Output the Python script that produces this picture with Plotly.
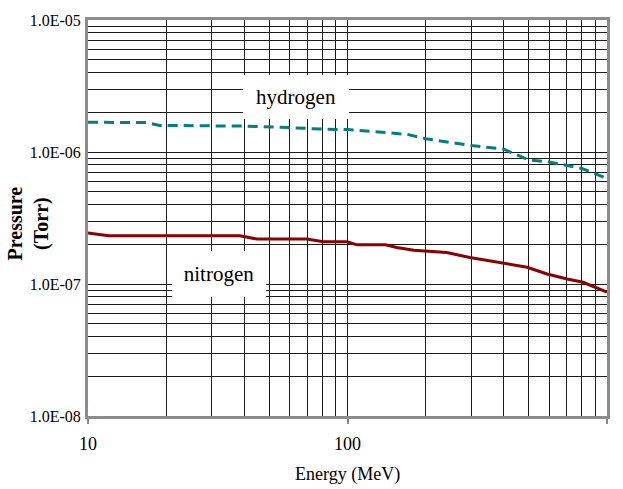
import plotly.graph_objects as go

# Residual gas pressure versus beam energy
energy_h = [10, 16.9, 18.9, 40, 60, 80, 100, 150, 170, 200, 300, 400, 500, 600, 700, 800, 1000]
pressure_h = [1.68e-6, 1.67e-6, 1.59e-6, 1.57e-6, 1.53e-6, 1.49e-6, 1.48e-6, 1.39e-6, 1.36e-6,
              1.26e-6, 1.12e-6, 1.05e-6, 0.87e-6, 0.84e-6, 0.79e-6, 0.75e-6, 0.63e-6]

energy_n = [10, 12, 38.5, 44.8, 69.8, 80.5, 99.6, 108.8, 140, 155, 180, 241, 296, 397, 492,
            588, 702, 809, 859, 1000]
pressure_n = [2.43e-7, 2.32e-7, 2.32e-7, 2.19e-7, 2.19e-7, 2.09e-7, 2.09e-7, 1.98e-7, 1.98e-7,
              1.89e-7, 1.80e-7, 1.73e-7, 1.59e-7, 1.43e-7, 1.34e-7, 1.19e-7, 1.09e-7, 1.03e-7,
              0.98e-7, 0.867e-7]

x_ticks = [10, 100, 1000]
x_tick_text = ["10", "100", "1000"]
y_ticks = [1e-8, 1e-7, 1e-6, 1e-5]
y_tick_text = ["1.0E-08", "1.0E-07", "1.0E-06", "1.0E-05"]

x_minor = [m * 10 ** d for d in (1, 2) for m in range(2, 10)]
y_minor = [m * 10.0 ** d for d in (-8, -7, -6) for m in range(2, 10)]

SERIF = "'Liberation Serif', 'Times New Roman', Times, serif"

fig = go.Figure()
fig.add_trace(go.Scatter(
    x=energy_h, y=pressure_h, mode="lines",
    line=dict(color="#008080", width=3, dash="10px,6px"),
    showlegend=False,
))
fig.add_trace(go.Scatter(
    x=energy_n, y=pressure_n, mode="lines",
    line=dict(color="#8B0000", width=3),
    showlegend=False,
))

grid = dict(showgrid=True, gridcolor="#1a1a1a", gridwidth=1)

fig.update_layout(
    width=623, height=489,
    margin=dict(l=88, r=16, t=18, b=73),
    paper_bgcolor="white", plot_bgcolor="white",
    font=dict(family=SERIF, color="black"),
    xaxis=dict(
        type="log", range=[1, 3],
        tickvals=x_ticks, ticktext=x_tick_text,
        tickfont=dict(size=18, family=SERIF),
        ticks="outside", ticklen=5, tickcolor="#888888", tickwidth=2,
        ticklabelstandoff=4,
        showline=True, mirror=True, linecolor="#8c8c8c", linewidth=3,
        minor=dict(tickvals=x_minor, **grid),
        zeroline=False, **grid,
    ),
    yaxis=dict(
        type="log", range=[-8, -5],
        tickvals=y_ticks, ticktext=y_tick_text,
        tickfont=dict(size=16, family=SERIF),
        ticks="", ticklabelstandoff=1,
        showline=True, mirror=True, linecolor="#8c8c8c", linewidth=3,
        minor=dict(tickvals=y_minor, **grid),
        zeroline=False, **grid,
    ),
    annotations=[
        dict(xref="paper", yref="paper", x=0.5, y=-0.148,
             text="Energy (MeV)", showarrow=False,
             xanchor="center", yanchor="middle",
             font=dict(size=18, family=SERIF)),
        dict(xref="paper", yref="paper", x=-0.115, y=0.487,
             text="<b>Pressure</b><br><b>(Torr)</b>", showarrow=False,
             textangle=-90, xanchor="center", yanchor="middle",
             font=dict(size=20, family=SERIF)),
        dict(xref="paper", yref="paper", x=(295.5 - 88) / 519, y=(416 - 95) / 398,
             text="hydrogen", showarrow=False, xanchor="center", yanchor="middle",
             width=106, height=44, bgcolor="white", borderwidth=0, borderpad=0,
             font=dict(size=21, family=SERIF)),
        dict(xref="paper", yref="paper", x=(219 - 88) / 519, y=(416 - 273) / 398,
             text="nitrogen", showarrow=False, xanchor="center", yanchor="middle",
             width=94, height=46, bgcolor="white", borderwidth=0, borderpad=0,
             font=dict(size=21, family=SERIF)),
    ],
)

fig.write_html("out.html")
